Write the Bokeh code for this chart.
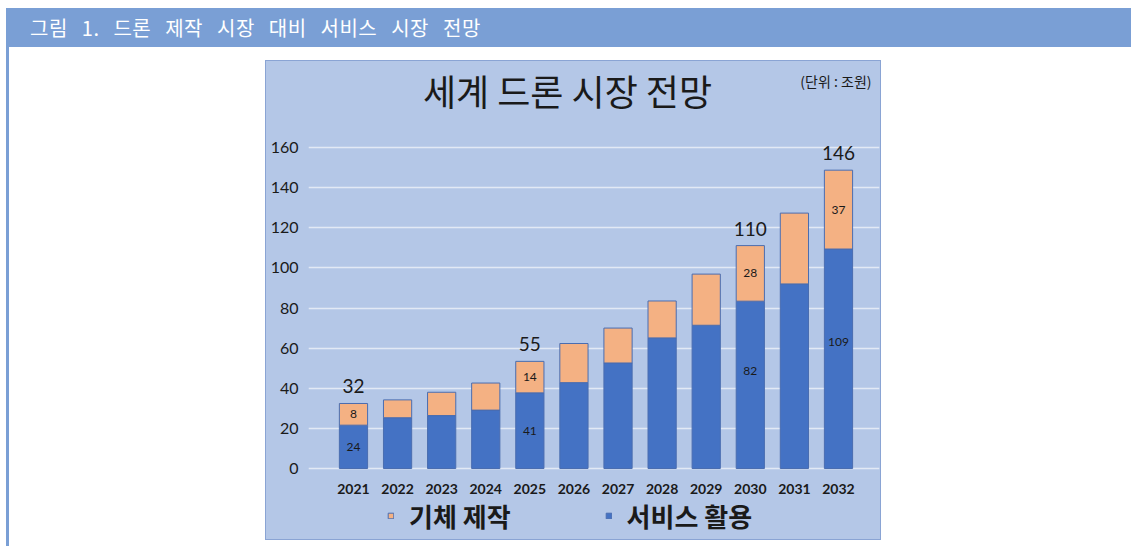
from bokeh.plotting import figure
from bokeh.models import (ColumnDataSource, Range1d, FixedTicker, Legend, LegendItem,
                          Label, Div)
from bokeh.layouts import column, row
from bokeh.embed import file_html
from bokeh.resources import INLINE
from bokeh.core.properties import value

# ---------------- data ----------------
years = ["2021", "2022", "2023", "2024", "2025", "2026",
         "2027", "2028", "2029", "2030", "2031", "2032"]
service = [21.6, 25.3, 26.4, 29.1, 37.7, 42.8, 52.6, 65.1, 71.4, 83.4, 92.0, 109.4]
production = [10.8, 8.9, 11.6, 13.5, 15.7, 19.5, 17.4, 18.4, 25.5, 27.7, 35.3, 39.3]
series_names = ["기체 제작", "서비스 활용"]
y_ticks = [0, 20, 40, 60, 80, 100, 120, 140, 160]

label_years = ["2021", "2025", "2030", "2032"]
service_labels = ["24", "41", "82", "109"]
production_labels = ["8", "14", "28", "37"]
total_labels = ["32", "55", "110", "146"]

title_text = "세계 드론 시장 전망"
unit_text = "(단위 : 조원)"
header_text = "그림 1. 드론 제작 시장 대비 서비스 시장 전망"

# ---------------- styles ----------------
BLUE = "#4472c4"
ORANGE = "#f4b183"
BG = "#b4c7e7"
HEAD = "#7a9fd5"
NUM_FONT = "Lato"
KR_FONT = "Noto Sans CJK KR"
service_nudge_px = [0, 0, -14, -17]

x_idx = list(range(len(years)))
src = ColumnDataSource(dict(x=x_idx, service=service, production=production))

# frame covers the whole chart box height (title/legend live inside it)
PX_PER_UNIT = 321 / 160
Y_TOP = 160 + 87 / PX_PER_UNIT
Y_BOTTOM = -(480 - 408) / PX_PER_UNIT
p = figure(width=616, height=480, output_backend="svg", toolbar_location=None,
           x_range=Range1d(-1.02, 11.93), y_range=Range1d(Y_BOTTOM, Y_TOP),
           min_border_left=43, min_border_right=2, min_border_top=0,
           min_border_bottom=0)
p.margin = (13, 0, 0, 0)
p.background_fill_alpha = 0
p.border_fill_alpha = 0
p.outline_line_color = None
p.styles = {"background-color": BG, "outline": "1px solid #8aa4d4",
            "outline-offset": "-1px"}

rs = p.vbar_stack(["service", "production"], x="x", width=0.64, source=src,
                  fill_color=[BLUE, ORANGE], line_color="#4a6db0", line_width=1)

# axes
p.yaxis.ticker = FixedTicker(ticks=y_ticks)
p.xaxis.ticker = FixedTicker(ticks=x_idx)
p.xaxis.fixed_location = 0
p.xaxis.major_label_overrides = {i: y for i, y in enumerate(years)}
for ax in (p.xaxis[0], p.yaxis[0]):
    ax.axis_line_color = None
    ax.major_tick_line_color = None
    ax.minor_tick_line_color = None
    ax.major_label_text_color = "#1a1a1a"
    ax.major_label_text_font = NUM_FONT
p.yaxis.major_label_text_font_size = "16px"
p.yaxis.major_label_standoff = 4
p.xaxis.major_label_text_font_size = "14px"
p.xaxis.major_label_text_font_style = "bold"
p.xaxis.major_label_standoff = 9

p.xgrid.visible = False
p.ygrid.ticker = FixedTicker(ticks=y_ticks)
p.ygrid.grid_line_color = "#e2e9f5"
p.ygrid.grid_line_width = 1.5

# data labels
li = [years.index(y) for y in label_years]
s_src = ColumnDataSource(dict(
    x=li, y=[service[i] / 2 for i in li], t=service_labels, dy=service_nudge_px))
p_src = ColumnDataSource(dict(
    x=li, y=[service[i] + production[i] / 2 for i in li], t=production_labels))
t_src = ColumnDataSource(dict(
    x=li, y=[service[i] + production[i] for i in li], t=total_labels))

p.text(x="x", y="y", text="t", source=s_src, y_offset="dy", text_align="center",
       text_baseline="middle", text_font=value(NUM_FONT), text_font_size="12px",
       text_color="#1a1a1a")
p.text(x="x", y="y", text="t", source=p_src, text_align="center",
       text_baseline="middle", text_font=value(NUM_FONT), text_font_size="12px",
       text_color="#1a1a1a")
p.text(x="x", y="y", text="t", source=t_src, y_offset=-17, text_align="center",
       text_baseline="alphabetic", text_font=value(NUM_FONT), text_font_size="19px",
       text_color="#1a1a1a")

# title & unit
p.add_layout(Label(x=259, y=451, x_units="screen", y_units="screen", text=title_text,
                   text_align="center", text_baseline="middle", text_font=KR_FONT,
                   text_font_size="36px", text_color="#1a1a1a"))
p.add_layout(Label(x=563, y=460, x_units="screen", y_units="screen", text=unit_text,
                   text_align="right", text_baseline="middle", text_font=KR_FONT,
                   text_font_size="14px", text_color="#1a1a1a"))

# legend
legend = Legend(items=[LegendItem(label=series_names[0], renderers=[rs[1]]),
                       LegendItem(label=series_names[1], renderers=[rs[0]])],
                location=(79, 6), orientation="horizontal",
                label_text_font=KR_FONT, label_text_font_size="26px",
                label_text_font_style="bold", label_text_color="#1a1a1a",
                glyph_width=7, glyph_height=7, label_standoff=15, spacing=94,
                padding=0, margin=0, background_fill_alpha=0, border_line_alpha=0)
p.add_layout(legend, "center")

# page frame
header = Div(text=header_text, width=1125, height=39, margin=(8, 0, 0, 6),
             styles={"background-color": HEAD, "color": "white", "font-family": KR_FONT,
                     "font-size": "20px", "font-weight": "normal", "padding-left": "24px",
                     "letter-spacing": "0.5px", "word-spacing": "9px",
                     "line-height": "39px", "box-sizing": "border-box",
                     "white-space": "nowrap"})
left = Div(text="", width=265, height=499, margin=0,
           styles={"background": f"linear-gradient(to right, white 6px, {HEAD} 6px, {HEAD} 9px, white 9px)"})

layout = column(header, row(left, p, spacing=0), spacing=0)

open("out.html", "w").write(file_html(layout, INLINE))
